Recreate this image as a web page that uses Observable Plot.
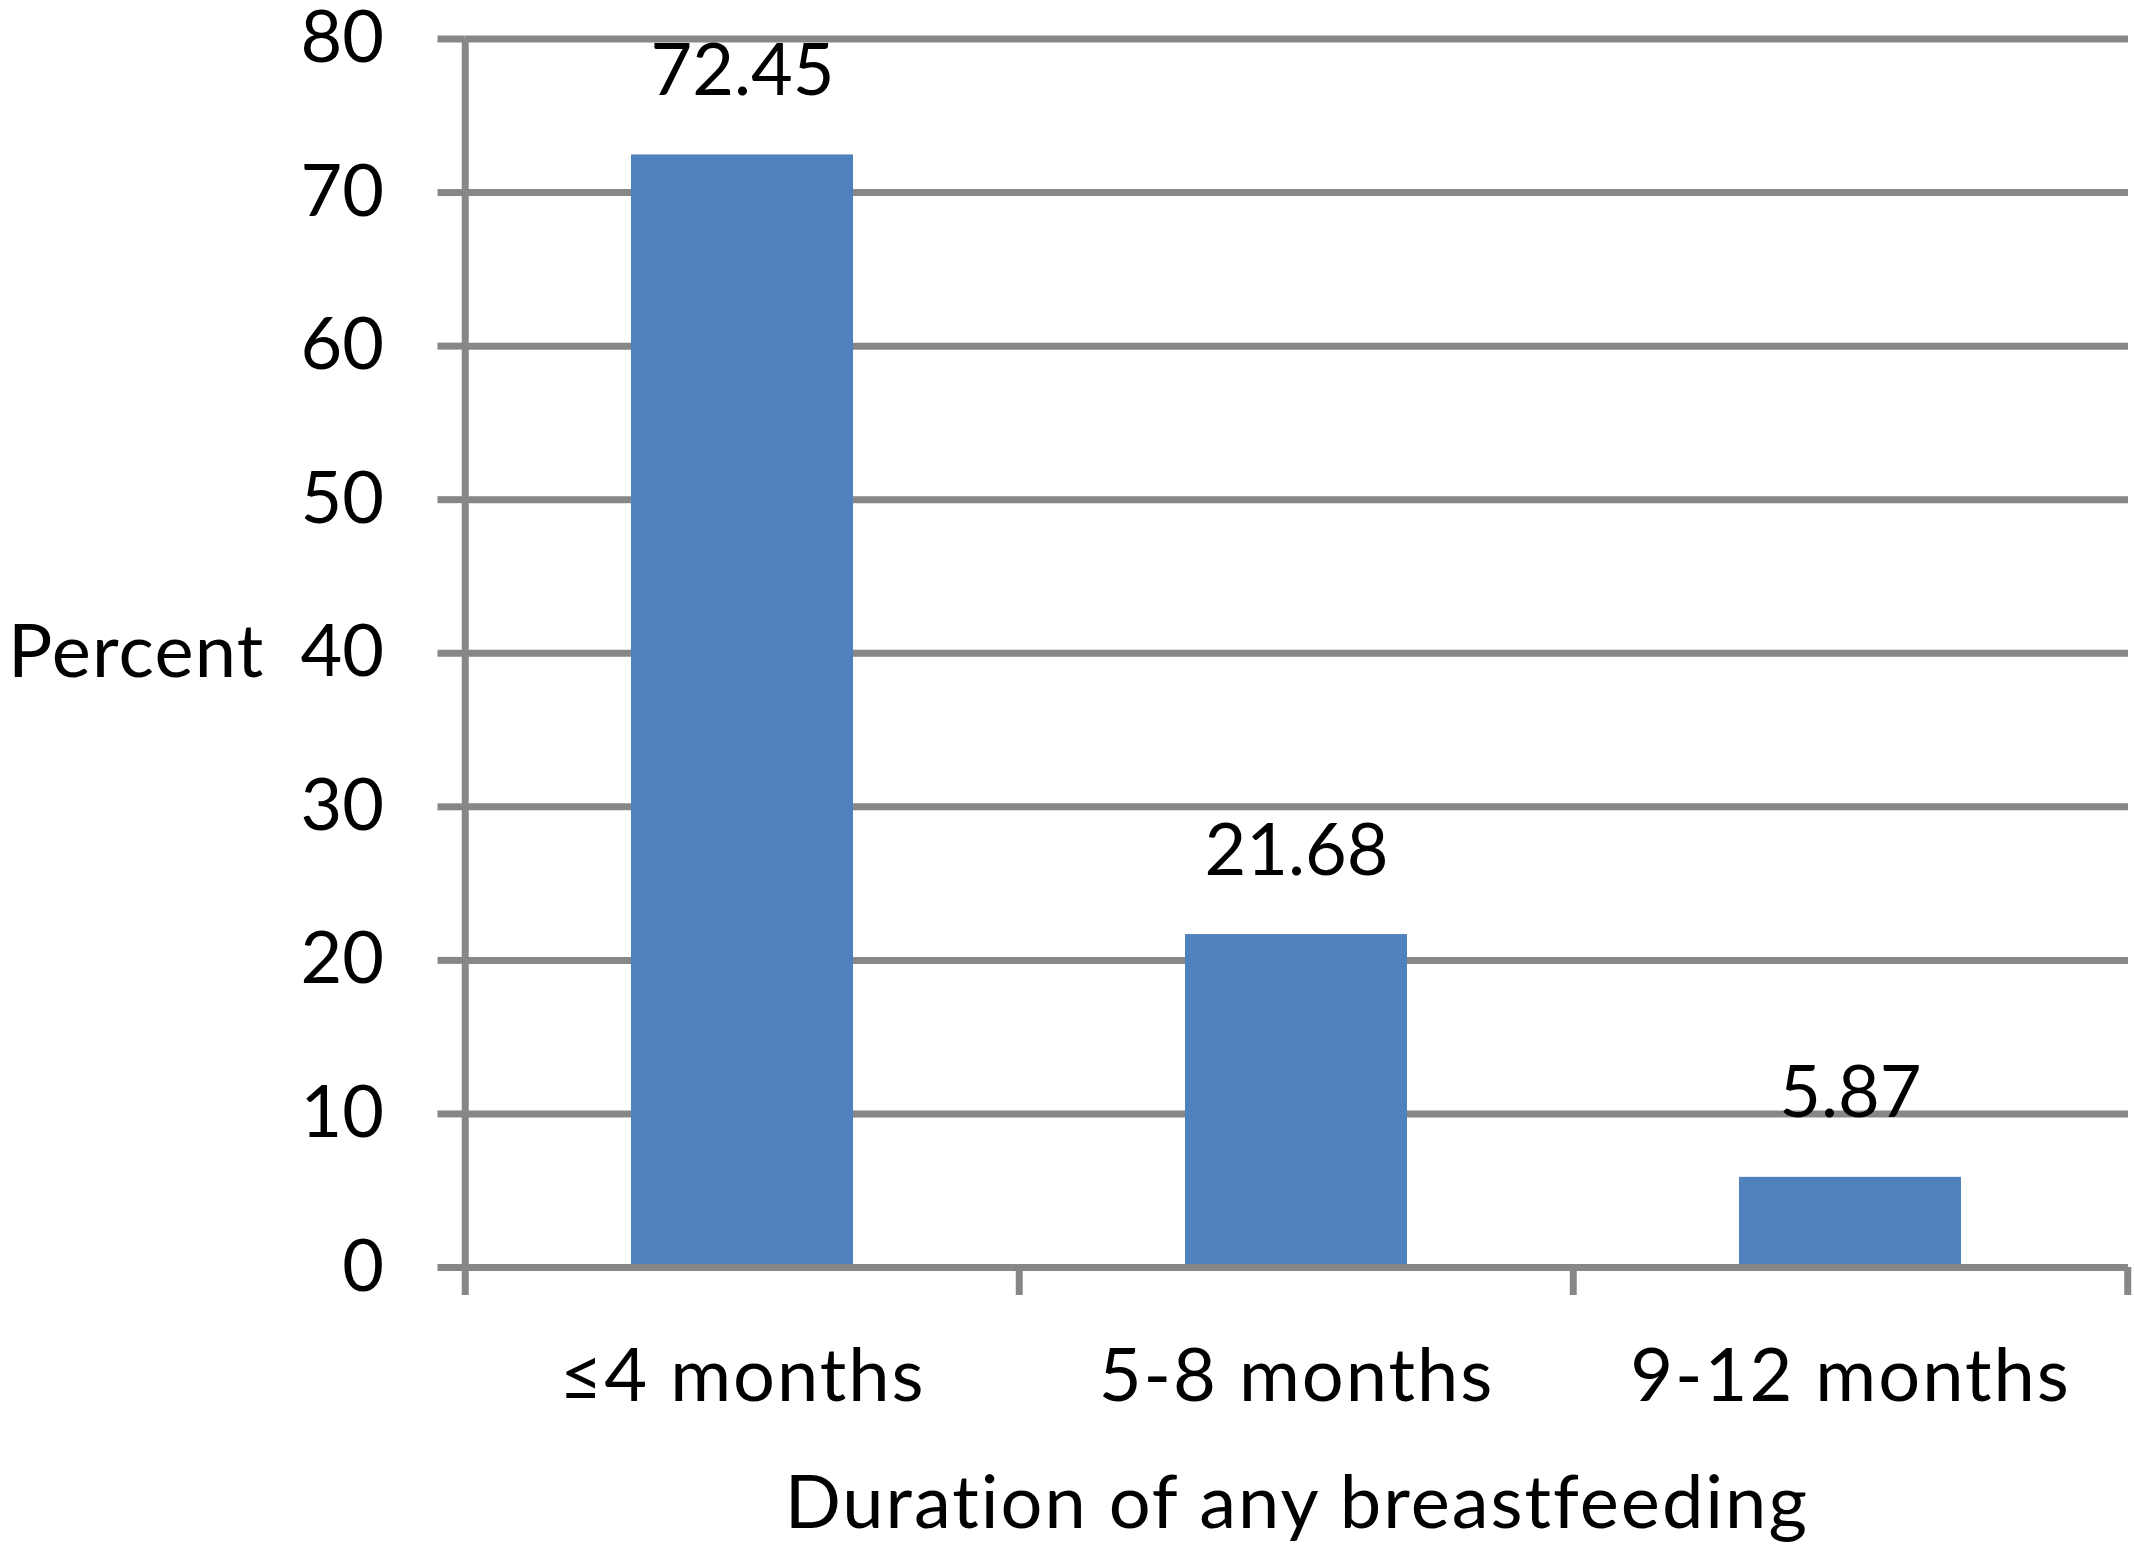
<!DOCTYPE html>
<html>
<head>
<meta charset="utf-8">
<script src="https://cdn.jsdelivr.net/npm/d3@7"></script>
<script src="https://cdn.jsdelivr.net/npm/@observablehq/plot@0.6"></script>
<style>
  html, body { margin: 0; padding: 0; background: #fff; }
  .wordy text { letter-spacing: 2px; }
  .wordy2 text { letter-spacing: 1.2px; }
</style>
</head>
<body>
<div id="chart"></div>
<script>
const categories = ["≤4 months", "5-8 months", "9-12 months"];
const values = [72.45, 21.68, 5.87];
const yTicks = [0, 10, 20, 30, 40, 50, 60, 70, 80];
const yTitle = "Percent";
const xTitle = "Duration of any breastfeeding";

const data = categories.map((c, i) => ({cat: c, val: values[i]}));

const W = 2134, H = 1556;
const mL = 464.5, mR = 6, mT = 38.5, mB = 289;
const step = (W - mL - mR) / categories.length;
const frameH = H - mT - mB;
const grey = "#878787";
const font = "Lato";
const fs = 72;
const fsWords = 74;

const chart = Plot.plot({
  width: W,
  height: H,
  marginLeft: mL,
  marginRight: mR,
  marginTop: mT,
  marginBottom: mB,
  style: {fontFamily: font, fontSize: fs + "px", color: "#000", background: "#fff"},
  x: {domain: categories, paddingInner: 0.6, paddingOuter: 0.3, axis: null},
  y: {domain: [0, 80], axis: null},
  marks: [
    Plot.gridY(yTicks.filter(d => d !== 0), {stroke: grey, strokeOpacity: 1, strokeWidth: 7}),
    Plot.barY(data, {x: "cat", y: "val", fill: "#4F81BD"}),
    Plot.ruleY([0], {stroke: grey, strokeWidth: 7}),
    Plot.axisY(yTicks, {tickSize: 27, tickPadding: 54, stroke: grey, strokeWidth: 7, label: null, fontSize: fs, fill: "#000"}),
    // y axis line (left edge of first category) extending below as a tick
    Plot.ruleX([categories[0]], {x: d => d, dx: -step / 2, stroke: grey, strokeWidth: 7, insetBottom: -28}),
    // category boundary ticks below the x axis
    Plot.ruleX(categories.slice(1), {x: d => d, dx: -step / 2, stroke: grey, strokeWidth: 7, insetTop: frameH, insetBottom: -28}),
    Plot.ruleX([categories[categories.length - 1]], {x: d => d, dx: step / 2, stroke: grey, strokeWidth: 7, insetTop: frameH, insetBottom: -28}),
    // value labels
    Plot.text(data, {x: "cat", y: "val", text: d => d.val.toFixed(2), dy: -60, lineAnchor: "bottom", fill: "#000", fontSize: fs}),
    // category labels
    Plot.text(categories, {x: d => d, frameAnchor: "bottom", dy: 133, lineAnchor: "bottom", fill: "#000", fontSize: fsWords, className: "wordy"}),
    // axis titles
    Plot.text([yTitle], {frameAnchor: "left", dx: -457, textAnchor: "start", lineAnchor: "middle", fill: "#000", fontSize: fsWords, className: "wordy2"}),
    Plot.text([xTitle], {frameAnchor: "bottom", dy: 260, lineAnchor: "bottom", fill: "#000", fontSize: fsWords, className: "wordy"})
  ]
});
document.getElementById("chart").appendChild(chart);
</script>
</body>
</html>
